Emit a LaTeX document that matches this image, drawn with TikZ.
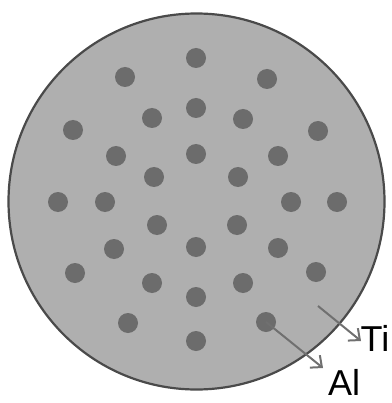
\documentclass[tikz,border=0pt]{standalone}
\usepackage{fontspec}
\setmainfont{Liberation Sans}
\usetikzlibrary{arrows.meta}
\definecolor{disk}{HTML}{AFAFAF}
\definecolor{rim}{HTML}{4A4A4A}
\definecolor{dotc}{HTML}{6C6C6C}
\definecolor{arr}{HTML}{707070}
\tikzset{
  atom/.style={circle,fill=dotc,inner sep=0pt,minimum size=20pt},
  lbl/.style={inner sep=0pt,font=\fontsize{36}{40}\selectfont},
  ptr/.style={draw=arr,line width=2pt,-{Straight Barb[length=9pt,width=16pt,line width=2pt]}}
}
\begin{document}
\begin{tikzpicture}[x=1pt,y=-1pt]
\useasboundingbox (0,0) rectangle (391,403);
\node[circle,draw=rim,fill=disk,line width=2.2pt,minimum size=376pt,inner sep=0pt] (disk) at (196.5,201.5) {};
\foreach \n/\x/\y in {1/196/58,2/125/77,3/267/79,4/196/108,5/152/118,6/243/119,
  7/73/130,8/318/131,9/196/154,10/116/156,11/278/156,12/154/177,13/238/177,
  14/58/202,15/105/202,16/291/202,17/337/202,18/157/225,19/237/225,
  20/196/247,21/114/249,22/278/248,23/75/273,24/316/272,25/152/283,
  26/243/283,27/196/297,28/128/323,29/266/322,30/196/341}
  \node[atom] (d\n) at (\x,\y) {};
\node[lbl] (ti) at (375,338) {Ti};
\node[lbl] (al) at (344,382) {Al};
\coordinate (tistart) at (318,306);
\coordinate (tiend) at (361,341);
\coordinate (alend) at (323,368);
\draw[ptr] (tistart) -- (tiend);
\draw[ptr] (d29.center) -- (alend);
\end{tikzpicture}
\end{document}
